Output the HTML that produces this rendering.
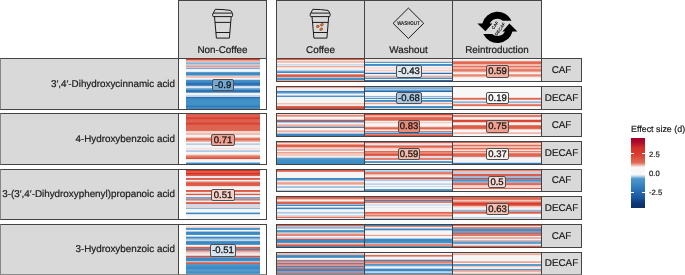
<!DOCTYPE html><html><head><meta charset="utf-8"><style>
*{margin:0;padding:0;box-sizing:border-box}
html,body{width:685px;height:275px;overflow:hidden;background:#fff;-webkit-font-smoothing:antialiased;will-change:transform;text-rendering:geometricPrecision;font-family:"Liberation Sans",sans-serif;color:#1a1a1a;-webkit-text-stroke:0.2px #1a1a1a}
.a{position:absolute}
.strip{position:absolute;background:#d9d9d9;border:1px solid #444}
.pan{position:absolute;border:1px solid #444;background:#fff}
.lastb{border-bottom-color:#8a8a8a !important}
.lft{border-left-color:#858585 !important}
.lbl{position:absolute;border:1px solid #505050;border-radius:2px;font-size:9.5px;-webkit-text-stroke:0.3px #111;line-height:10px;text-align:center;color:#1a1a1a}
.rt{position:absolute;font-size:9.85px;white-space:nowrap;text-align:right}
</style></head><body>
<div class="strip" style="left:178px;top:0px;width:89px;height:59px;"></div>
<div class="strip" style="left:276px;top:0px;width:89px;height:59px;"></div>
<div class="strip" style="left:364px;top:0px;width:89px;height:59px;"></div>
<div class="strip" style="left:452px;top:0px;width:90px;height:59px;"></div>
<div class="strip lft" style="left:0px;top:58px;width:179px;height:52px;"></div>
<div class="rt" style="right:510px;top:78.5px;line-height:12px">3′,4′-Dihydroxycinnamic acid</div>
<div class="strip lft" style="left:0px;top:113px;width:179px;height:52px;"></div>
<div class="rt" style="right:510px;top:133.5px;line-height:12px">4-Hydroxybenzoic acid</div>
<div class="strip lft" style="left:0px;top:169px;width:179px;height:51px;"></div>
<div class="rt" style="right:510px;top:189.0px;line-height:12px">3-(3′,4′-Dihydroxyphenyl)propanoic acid</div>
<div class="strip lft lastb" style="left:0px;top:224px;width:179px;height:51px;"></div>
<div class="rt" style="right:510px;top:244.0px;line-height:12px">3-Hydroxybenzoic acid</div>
<div class="pan" style="left:178px;top:58px;width:89px;height:52px"><div class="a" style="left:7px;top:0;width:74px;height:50px;background:linear-gradient(to bottom,#e03c2c 0px 1px,#f0a090 1px 2px,#f4b4a6 2px 3px,#a4c6e2 3px 4px,#84b4da 4px 5px,#b8cfe4 5px 6px,#e8b8b0 6px 7px,#f09a88 7px 8px,#c8c8d8 8px 9px,#78acd8 9px 10px,#f0f0f0 10px 11px,#f5f5f5 11px 12px,#e4ecf4 12px 13px,#5a9ccc 13px 14px,#3a88c4 14px 15px,#3d8cc6 15px 16px,#8ab4d8 16px 17px,#f6c0b4 17px 18px,#f4c4b8 18px 19px,#f4f4f4 19px 20px,#c8dcee 20px 21px,#4a90c8 21px 22px,#3f8cc8 22px 23px,#3a86c2 23px 24px,#2c6eb0 24px 25px,#2e70b2 25px 26px,#5088c4 26px 27px,#d0dcec 27px 28px,#dde6f0 28px 29px,#7aaed4 29px 30px,#5a9ccc 30px 31px,#2e72b4 31px 32px,#2e70b2 32px 33px,#6a9ccc 33px 34px,#f4f4f4 34px 36px,#c4d8ea 36px 37px,#c0d4e8 37px 38px,#2e6eb0 38px 39px,#3a84c2 39px 40px,#3f8cc6 40px 41px,#4090c8 41px 43px,#4292c8 43px 45px,#4090c8 45px 46px,#3a88c4 46px 47px,#3078b8 47px 48px,#3f8cc4 48px 50px)"></div></div>
<div class="pan" style="left:178px;top:113px;width:89px;height:52px"><div class="a" style="left:7px;top:0;width:74px;height:50px;background:linear-gradient(to bottom,#dc5a48 0px 1px,#dc6050 1px 3px,#d84a3c 3px 4px,#d84030 4px 5px,#dc5a48 5px 6px,#dc6050 6px 8px,#dc5848 8px 9px,#d84030 9px 10px,#dc5040 10px 11px,#dc6450 11px 16px,#de6c5a 16px 17px,#f4d0c8 17px 18px,#f4d4cc 18px 19px,#f2c0b4 19px 20px,#f2bcb0 20px 21px,#f4f4f4 21px 22px,#f4f2f2 22px 23px,#f0c0b0 23px 24px,#e8806c 24px 25px,#e06450 25px 26px,#e89484 26px 27px,#f0b0a0 27px 28px,#f4f4f4 28px 29px,#c8dcec 29px 30px,#b8d0e6 30px 31px,#f4f4f4 31px 32px,#f5f5f5 32px 33px,#f5f3f3 33px 34px,#f8e0da 34px 35px,#f4ecea 35px 36px,#c0d4e8 36px 37px,#b0cce4 37px 38px,#f4f4f4 38px 39px,#f5f5f5 39px 40px,#f6dcd4 40px 41px,#eca090 41px 42px,#e47866 42px 43px,#e06a56 43px 44px,#dc5040 44px 45px,#f4e8e4 45px 46px,#f5f5f5 46px 47px,#f4f4f4 47px 48px,#a8c8e4 48px 49px,#3a88c4 49px 50px)"></div></div>
<div class="pan" style="left:178px;top:169px;width:89px;height:51px"><div class="a" style="left:7px;top:0;width:74px;height:49px;background:linear-gradient(to bottom,#d83028 0px 1px,#dc5a48 1px 2px,#dc5c48 2px 3px,#d83028 3px 4px,#dc4a3a 4px 5px,#dc5a48 5px 6px,#e8e4ec 6px 7px,#e8e8ee 7px 8px,#dc5a48 8px 9px,#e06a56 9px 10px,#f4f4f4 10px 11px,#f0b4a4 11px 12px,#e07060 12px 13px,#dc5a48 13px 15px,#de6050 15px 16px,#f4dcd6 16px 17px,#f6ecea 17px 18px,#f4f6f8 18px 20px,#dc5a48 20px 21px,#e06450 21px 22px,#f6e4e0 22px 23px,#f2c8bc 23px 24px,#dc5a48 24px 25px,#f4e0dc 25px 26px,#f4f4f4 26px 27px,#6aa4d4 27px 28px,#7aaed4 28px 29px,#e47866 29px 30px,#f0a898 30px 31px,#f4f4f4 31px 32px,#e07060 32px 33px,#dc5c48 33px 34px,#c8dcec 34px 36px,#f4d0c8 36px 37px,#d0d8e8 37px 38px,#8ab8dc 38px 39px,#f4f4f4 39px 40px,#f5f5f5 40px 42px,#a8c8e4 42px 43px,#3a88c4 43px 44px,#d8e4f0 44px 45px,#f6f4f4 45px 47px,#f8f8f8 47px 49px)"></div></div>
<div class="pan lastb" style="left:178px;top:224px;width:89px;height:51px"><div class="a" style="left:7px;top:0;width:74px;height:49px;background:linear-gradient(to bottom,#f8f8f8 0px 1px,#f8e0da 1px 2px,#e8d0d4 2px 3px,#4a94c8 3px 4px,#5a9ccc 4px 5px,#f4f4f4 5px 6px,#a8c8e4 6px 7px,#3a88c4 7px 9px,#4a94c8 9px 10px,#f4f4f4 10px 11px,#b8d0e8 11px 12px,#3a88c4 12px 13px,#7aaed4 13px 14px,#b0cce4 14px 15px,#c8d8e8 15px 16px,#4a94c8 16px 17px,#3a88c4 17px 19px,#5a9ccc 19px 20px,#f4f4f4 20px 21px,#f4d8d0 21px 22px,#dc5a48 22px 23px,#e06450 23px 24px,#3a88c4 24px 25px,#a89098 25px 26px,#f0a090 26px 27px,#f4d0c8 27px 28px,#f4dcd6 28px 29px,#f0eef0 29px 30px,#eccac4 30px 31px,#d85040 31px 32px,#8890a8 32px 33px,#3a88c4 33px 35px,#3d8cc6 35px 36px,#a8c8e4 36px 37px,#d88070 37px 38px,#dc5a48 38px 39px,#5a94c4 39px 40px,#4a94c8 40px 41px,#4090c8 41px 42px,#3a8cc6 42px 44px,#4a94c8 44px 45px,#5a9ccc 45px 46px,#4a94c8 46px 47px,#4090c8 47px 48px,#5a9ccc 48px 49px)"></div></div>
<div class="pan" style="left:276px;top:58px;width:89px;height:24px"><div class="a" style="left:0;top:0;right:0;height:22px;background:linear-gradient(to bottom,#e06048 0px 1px,#f6e0da 1px 2px,#f2b8a8 2px 3px,#f4c4b8 3px 4px,#f5f5f5 4px 5px,#c8dcec 5px 6px,#dde8f2 6px 7px,#f0a890 7px 8px,#f6dcd4 8px 9px,#f4eeee 9px 10px,#f6f2f0 10px 11px,#b8d0e8 11px 12px,#6aa4d4 12px 13px,#3d8cc6 13px 14px,#f4f4f4 14px 15px,#e88a74 15px 16px,#e05a44 16px 17px,#e06048 17px 18px,#a8c8e4 18px 19px,#4a94c8 19px 20px,#4090c8 20px 21px,#e8a090 21px 22px)"></div></div>
<div class="pan" style="left:364px;top:58px;width:89px;height:24px"><div class="a" style="left:0;top:0;right:0;height:22px;background:linear-gradient(to bottom,#fbe4dc 0px 1px,#f8e4e0 1px 2px,#c8dcee 2px 3px,#5a9ccc 3px 4px,#f0f4f8 4px 5px,#3f8cc6 5px 6px,#4a94c8 6px 7px,#f4f4f4 7px 8px,#f8e0da 8px 9px,#f8e4e0 9px 10px,#f8e8e4 10px 11px,#f6d0c8 11px 12px,#f4e8e6 12px 13px,#c0d4e8 13px 14px,#2e6eb2 14px 15px,#ecf0f4 15px 16px,#f8dcd4 16px 17px,#f0a890 17px 18px,#a0c4e0 18px 19px,#4a90c8 19px 20px,#f0f0f0 20px 21px,#2a6ab0 21px 22px)"></div></div>
<div class="pan" style="left:452px;top:58px;width:90px;height:24px"><div class="a" style="left:0;top:0;right:0;height:22px;background:linear-gradient(to bottom,#f8f8f8 0px 1px,#f6e8e4 1px 2px,#e8907c 2px 3px,#e06450 3px 4px,#e06a56 4px 5px,#f0b8a8 5px 6px,#f2c0b4 6px 7px,#e07060 7px 8px,#f0b0a0 8px 9px,#f2b8a8 9px 10px,#e88070 10px 11px,#e47a68 11px 12px,#eca090 12px 13px,#f6e0da 13px 14px,#f8f4f2 14px 15px,#eca090 15px 16px,#e88570 16px 17px,#f0b0a0 17px 18px,#f8e8e4 18px 19px,#f8f8f8 19px 21px,#f4f4f4 21px 22px)"></div></div>
<div class="strip" style="left:541px;top:58px;width:41px;height:24px;"></div>
<div class="a" style="left:541px;top:64.5px;width:41px;text-align:center;font-size:9.85px;line-height:12px">CAF</div>
<div class="pan" style="left:276px;top:86px;width:89px;height:24px"><div class="a" style="left:0;top:0;right:0;height:22px;background:linear-gradient(to bottom,#f0a090 0px 1px,#f8e8e4 1px 2px,#f8ecea 2px 3px,#f0f0f4 3px 4px,#3a80c0 4px 5px,#5a9ccc 5px 6px,#a0c4e0 6px 7px,#f4f4f4 7px 8px,#a8c8e4 8px 9px,#4a90c8 9px 10px,#f4f4f4 10px 11px,#f5f5f5 11px 16px,#f4c0b4 16px 17px,#f6dcd4 17px 18px,#f4f0f0 18px 19px,#e06048 19px 20px,#d85040 20px 21px,#d04838 21px 22px)"></div></div>
<div class="pan" style="left:364px;top:86px;width:89px;height:24px"><div class="a" style="left:0;top:0;right:0;height:22px;background:linear-gradient(to bottom,#8ab8dc 0px 1px,#7eb0d8 1px 2px,#a0c4e0 2px 3px,#5a9ccc 3px 4px,#2a6ab0 4px 5px,#f0f4f8 5px 6px,#f8f8f8 6px 8px,#f4f4f4 8px 9px,#8ab8dc 9px 10px,#d8e4f0 10px 11px,#4a94c8 11px 12px,#f0f4f8 12px 13px,#3f8cc6 13px 14px,#5a9ccc 14px 15px,#f4e8e4 15px 16px,#f0a090 16px 17px,#f8e8e4 17px 18px,#f4f4f4 18px 19px,#4a94c8 19px 20px,#3a88c4 20px 21px,#c8dcee 21px 22px)"></div></div>
<div class="pan" style="left:452px;top:86px;width:90px;height:24px"><div class="a" style="left:0;top:0;right:0;height:22px;background:linear-gradient(to bottom,#f8f0ee 0px 1px,#f7f7f7 1px 10px,#f4d8d0 10px 11px,#e06a54 11px 12px,#e88a78 12px 13px,#f4f4f4 13px 14px,#a8c8e4 14px 15px,#8ab8dc 15px 16px,#f4e0dc 16px 17px,#e88a78 17px 18px,#e06a54 18px 19px,#f4e4e0 19px 20px,#f7f7f7 20px 22px)"></div></div>
<div class="strip" style="left:541px;top:86px;width:41px;height:24px;"></div>
<div class="a" style="left:541px;top:92.5px;width:41px;text-align:center;font-size:9.85px;line-height:12px">DECAF</div>
<div class="pan" style="left:276px;top:113px;width:89px;height:24px"><div class="a" style="left:0;top:0;right:0;height:22px;background:linear-gradient(to bottom,#f2d0c8 0px 1px,#e88a78 1px 2px,#f0b0a0 2px 3px,#f5f5f5 3px 5px,#f4c8bc 5px 6px,#dc5040 6px 7px,#3a88c4 7px 8px,#a8c8e4 8px 9px,#f4f4f4 9px 10px,#f4c4b8 10px 11px,#f0b0a0 11px 12px,#eca090 12px 13px,#3a88c4 13px 14px,#f4f4f4 14px 15px,#f5f5f5 15px 16px,#f4c8bc 16px 17px,#f0b0a0 17px 18px,#f4dcd4 18px 19px,#a8c8e4 19px 20px,#3a88c4 20px 21px,#3a80c0 21px 22px)"></div></div>
<div class="pan" style="left:364px;top:113px;width:89px;height:24px"><div class="a" style="left:0;top:0;right:0;height:22px;background:linear-gradient(to bottom,#d84030 0px 1px,#eea090 1px 2px,#f2b8a8 2px 3px,#e47866 3px 4px,#e06450 4px 6px,#e88a78 6px 7px,#f4f0f0 7px 8px,#f4d0c8 8px 9px,#f4e8e4 9px 10px,#f6f6f6 10px 11px,#f4f4f4 11px 12px,#f4d8d0 12px 13px,#e88070 13px 14px,#e06450 14px 15px,#f0b0a0 15px 16px,#f4f4f4 16px 17px,#e47866 17px 18px,#a0c4e0 18px 19px,#3a88c4 19px 20px,#e88070 20px 21px,#dc5040 21px 22px)"></div></div>
<div class="pan" style="left:452px;top:113px;width:90px;height:24px"><div class="a" style="left:0;top:0;right:0;height:22px;background:linear-gradient(to bottom,#f4d8d0 0px 1px,#e47866 1px 2px,#e47a68 2px 3px,#f6e4e0 3px 4px,#f4f4f4 4px 5px,#f2c4b8 5px 6px,#d84030 6px 7px,#dc4a3a 7px 8px,#f2c4b8 8px 9px,#f6f6f6 9px 10px,#f6ecea 10px 11px,#e47a68 11px 12px,#dc5c48 12px 14px,#e06a56 14px 15px,#f4c8bc 15px 16px,#f4f6f8 16px 18px,#f2c8bc 18px 19px,#f2b8a8 19px 20px,#f6f6f6 20px 21px,#f8f8f8 21px 22px)"></div></div>
<div class="strip" style="left:541px;top:113px;width:41px;height:24px;"></div>
<div class="a" style="left:541px;top:119.5px;width:41px;text-align:center;font-size:9.85px;line-height:12px">CAF</div>
<div class="pan" style="left:276px;top:141px;width:89px;height:24px"><div class="a" style="left:0;top:0;right:0;height:22px;background:linear-gradient(to bottom,#e88a78 0px 1px,#f6e0da 1px 2px,#ec9a88 2px 3px,#dc5a48 3px 4px,#de6450 4px 5px,#f0b8a8 5px 6px,#d4e0ec 6px 7px,#f0a898 7px 8px,#f0b0a0 8px 9px,#f4f4f4 9px 10px,#eca090 10px 11px,#f2c4b8 11px 12px,#f4c8bc 12px 13px,#f4ccc0 13px 14px,#f6ece8 14px 15px,#c8dcec 15px 16px,#5a9ccc 16px 17px,#4a94c8 17px 18px,#4090c8 18px 21px,#3a88c4 21px 22px)"></div></div>
<div class="pan" style="left:364px;top:141px;width:89px;height:24px"><div class="a" style="left:0;top:0;right:0;height:22px;background:linear-gradient(to bottom,#dc5040 0px 1px,#d0dcec 1px 2px,#e8e8f0 2px 3px,#ec9a88 3px 4px,#e06450 4px 5px,#e88070 5px 6px,#f4d0c8 6px 7px,#f6d8d0 7px 8px,#f4e4e0 8px 9px,#e06a56 9px 10px,#e88a78 10px 11px,#e88070 11px 12px,#dc5040 12px 13px,#e06450 13px 14px,#f0d8d4 14px 15px,#d0dcec 15px 16px,#e88070 16px 18px,#f4f4f4 18px 19px,#5a9ccc 19px 20px,#4a94c8 20px 21px,#f4f4f4 21px 22px)"></div></div>
<div class="pan" style="left:452px;top:141px;width:90px;height:24px"><div class="a" style="left:0;top:0;right:0;height:22px;background:linear-gradient(to bottom,#e06450 0px 1px,#f4dcd6 1px 2px,#f2c0b4 2px 3px,#e06a56 3px 4px,#f0b8a8 4px 5px,#f2c4b8 5px 6px,#e06a56 6px 7px,#f0b0a0 7px 8px,#f6e4e0 8px 9px,#e88070 9px 10px,#f0c8bc 10px 11px,#e88070 11px 12px,#e06450 12px 14px,#e88070 14px 15px,#d8e4f0 15px 16px,#f4f4f4 16px 17px,#f5f5f5 17px 19px,#f4f4f4 19px 20px,#c8dcec 20px 21px,#3078b8 21px 22px)"></div></div>
<div class="strip" style="left:541px;top:141px;width:41px;height:24px;"></div>
<div class="a" style="left:541px;top:147.5px;width:41px;text-align:center;font-size:9.85px;line-height:12px">DECAF</div>
<div class="pan" style="left:276px;top:169px;width:89px;height:23px"><div class="a" style="left:0;top:0;right:0;height:21px;background:linear-gradient(to bottom,#dc5a48 0px 1px,#e88070 1px 2px,#f4f4f4 2px 3px,#f5f5f5 3px 7px,#f4f4f4 7px 8px,#3a88c4 8px 9px,#4a94c8 9px 10px,#a0c4e0 10px 11px,#f4e8e4 11px 12px,#f0a898 12px 13px,#eca090 13px 14px,#f0c0b4 14px 15px,#f4f4f4 15px 16px,#a8c8e4 16px 17px,#a0c4e0 17px 18px,#f4f4f4 18px 20px,#b0cce4 20px 21px)"></div></div>
<div class="pan" style="left:364px;top:169px;width:89px;height:23px"><div class="a" style="left:0;top:0;right:0;height:21px;background:linear-gradient(to bottom,#c0d8ec 0px 1px,#a8c8e4 1px 2px,#e88070 2px 3px,#e47866 3px 4px,#f0b8a8 4px 5px,#f4e4e0 5px 6px,#f4f4f4 6px 7px,#e88a78 7px 8px,#dc4a3a 8px 9px,#b0cce4 9px 10px,#a8c8e4 10px 11px,#f4f4f4 11px 12px,#f4f6f8 12px 13px,#d0e0ee 13px 14px,#c0d4e8 14px 15px,#f4f4f4 15px 16px,#c8dcec 16px 17px,#f4f4f4 17px 18px,#f5f5f5 18px 19px,#5a9ccc 19px 20px,#4a90c8 20px 21px)"></div></div>
<div class="pan" style="left:452px;top:169px;width:90px;height:23px"><div class="a" style="left:0;top:0;right:0;height:21px;background:linear-gradient(to bottom,#e88070 0px 1px,#f0c0b4 1px 2px,#c0d0e4 2px 3px,#c8d0e0 3px 4px,#dc5c48 4px 6px,#a8b8d0 6px 8px,#dc5040 8px 9px,#5a9ccc 9px 10px,#4a94c8 10px 11px,#78acd8 11px 12px,#a8a8c0 12px 13px,#e47060 13px 14px,#e06a56 14px 15px,#f0c8bc 15px 16px,#f4d4cc 16px 17px,#f4d0c8 17px 18px,#e06450 18px 19px,#f8f8f8 19px 21px)"></div></div>
<div class="strip" style="left:541px;top:169px;width:41px;height:23px;"></div>
<div class="a" style="left:541px;top:175.0px;width:41px;text-align:center;font-size:9.85px;line-height:12px">CAF</div>
<div class="pan" style="left:276px;top:196px;width:89px;height:24px"><div class="a" style="left:0;top:0;right:0;height:22px;background:linear-gradient(to bottom,#dc5a48 0px 1px,#e06a56 1px 2px,#f0c0b4 2px 3px,#f4f4f4 3px 4px,#f0b0a0 4px 5px,#e06450 5px 6px,#dc5a48 6px 7px,#a0c4e0 7px 8px,#3a88c4 8px 9px,#f4f4f4 9px 10px,#a8c8e4 10px 11px,#3a88c4 11px 12px,#d8e4f0 12px 13px,#f4f4f4 13px 15px,#a8c8e4 15px 16px,#c8dcec 16px 17px,#f4f4f4 17px 18px,#c8dcec 18px 19px,#f0c0b4 19px 20px,#e47866 20px 21px,#e8e8f0 21px 22px)"></div></div>
<div class="pan" style="left:364px;top:196px;width:89px;height:24px"><div class="a" style="left:0;top:0;right:0;height:22px;background:linear-gradient(to bottom,#dc5a48 0px 1px,#e06a56 1px 2px,#c0a8b8 2px 3px,#3a88c4 3px 4px,#e47866 4px 6px,#f4f4f4 6px 7px,#d0e0ee 7px 8px,#d8e4f0 8px 9px,#f5f5f5 9px 10px,#e0e8f2 10px 11px,#f5f5f5 11px 14px,#f6ecea 14px 15px,#e06450 15px 16px,#e88070 16px 17px,#f0b0a0 17px 18px,#e47866 18px 19px,#f0b8a8 19px 20px,#f4e0dc 20px 21px,#a8c8e4 21px 22px)"></div></div>
<div class="pan" style="left:452px;top:196px;width:90px;height:24px"><div class="a" style="left:0;top:0;right:0;height:22px;background:linear-gradient(to bottom,#dc6450 0px 2px,#e47866 2px 3px,#f2c8bc 3px 4px,#eca090 4px 5px,#e06a56 5px 6px,#d83830 6px 7px,#dc4a3a 7px 8px,#e06450 8px 9px,#f2c8bc 9px 10px,#f4e0dc 10px 11px,#f6f2f0 11px 12px,#dde8f2 12px 13px,#8ab8dc 13px 14px,#c0a0a8 14px 15px,#dc5c48 15px 16px,#e88a78 16px 17px,#f4f4f4 17px 18px,#f6f8fa 18px 19px,#f4f6f8 19px 20px,#b8d0e8 20px 21px,#e0d8dc 21px 22px)"></div></div>
<div class="strip" style="left:541px;top:196px;width:41px;height:24px;"></div>
<div class="a" style="left:541px;top:202.5px;width:41px;text-align:center;font-size:9.85px;line-height:12px">DECAF</div>
<div class="pan" style="left:276px;top:224px;width:89px;height:24px"><div class="a" style="left:0;top:0;right:0;height:22px;background:linear-gradient(to bottom,#e06450 0px 1px,#d0b8c0 1px 2px,#8ab8dc 2px 3px,#a8c8e4 3px 4px,#f4f4f4 4px 5px,#5a9ccc 5px 6px,#4a94c8 6px 7px,#a0c4e0 7px 8px,#f0c0b4 8px 9px,#e88a78 9px 10px,#e88070 10px 11px,#f4f4f4 11px 12px,#d0dcec 12px 13px,#b0c8e0 13px 14px,#dc5040 14px 15px,#3a88c4 15px 17px,#4a94c8 17px 18px,#f0c8bc 18px 19px,#e88a78 19px 20px,#dc5a48 20px 21px,#3a88c4 21px 22px)"></div></div>
<div class="pan" style="left:364px;top:224px;width:89px;height:24px"><div class="a" style="left:0;top:0;right:0;height:22px;background:linear-gradient(to bottom,#3a80c0 0px 1px,#e88a78 1px 2px,#f4e4e0 2px 3px,#a0c4e0 3px 4px,#3a88c4 4px 5px,#c0d4e8 5px 6px,#f4f4f4 6px 7px,#f5f5f5 7px 9px,#f4e8e4 9px 10px,#f0a090 10px 11px,#f4f4f4 11px 12px,#f5f5f5 12px 13px,#b0cce4 13px 14px,#3a88c4 14px 16px,#4090c8 16px 17px,#4a94c8 17px 18px,#a8c8e4 18px 19px,#e88a78 19px 20px,#e88070 20px 21px,#4090c8 21px 22px)"></div></div>
<div class="pan" style="left:452px;top:224px;width:90px;height:24px"><div class="a" style="left:0;top:0;right:0;height:22px;background:linear-gradient(to bottom,#e06450 0px 1px,#f4e4e0 1px 2px,#e88070 2px 3px,#b08898 3px 4px,#3a90c8 4px 6px,#9890a8 6px 7px,#e07060 7px 8px,#5a8cc0 8px 9px,#e07868 9px 11px,#f4f0f0 11px 12px,#f0b0a0 12px 13px,#f0aca0 13px 14px,#f4f0f0 14px 15px,#f0b0a0 15px 16px,#8ab0d4 16px 17px,#5a9ccc 17px 18px,#6aa4d4 18px 19px,#dce6f0 19px 20px,#f0c8bc 20px 21px,#d85a48 21px 22px)"></div></div>
<div class="strip" style="left:541px;top:224px;width:41px;height:24px;"></div>
<div class="a" style="left:541px;top:230.5px;width:41px;text-align:center;font-size:9.85px;line-height:12px">CAF</div>
<div class="pan lastb" style="left:276px;top:252px;width:89px;height:23px"><div class="a" style="left:0;top:0;right:0;height:21px;background:linear-gradient(to bottom,#f2c0b4 0px 1px,#f0b8a8 1px 2px,#4a94c8 2px 3px,#3a88c4 3px 4px,#5a9ccc 4px 5px,#f4f4f4 5px 6px,#f4e4e0 6px 7px,#e06a56 7px 8px,#7aa8d4 8px 9px,#a0b8d8 9px 10px,#dc5a48 10px 11px,#e88a78 11px 12px,#c0a0b0 12px 13px,#3a88c4 13px 14px,#c88888 14px 15px,#d87060 15px 16px,#3a88c4 16px 18px,#a890a8 18px 19px,#e08070 19px 20px,#5a94c4 20px 21px)"></div></div>
<div class="pan lastb" style="left:364px;top:252px;width:89px;height:23px"><div class="a" style="left:0;top:0;right:0;height:21px;background:linear-gradient(to bottom,#f6f6f6 0px 1px,#f6ece8 1px 2px,#e06a56 2px 3px,#eca090 3px 4px,#f4f4f4 4px 6px,#c0d4e8 6px 7px,#3a88c4 7px 8px,#e47866 8px 9px,#e88070 9px 10px,#eca898 10px 11px,#4a94c8 11px 12px,#6aa4d4 12px 13px,#c8dcec 13px 14px,#f0f4f8 14px 15px,#b0cce4 15px 16px,#3a88c4 16px 18px,#a8c8e4 18px 19px,#c0d4e8 19px 20px,#5a94c4 20px 21px)"></div></div>
<div class="pan lastb" style="left:452px;top:252px;width:90px;height:23px"><div class="a" style="left:0;top:0;right:0;height:21px;background:linear-gradient(to bottom,#f0c0b4 0px 1px,#f0a898 1px 2px,#f6ece8 2px 3px,#f5f5f5 3px 8px,#f0b8a8 8px 9px,#f0a898 9px 10px,#f4f4f4 10px 11px,#5a9ccc 11px 13px,#f4c4b8 13px 14px,#f4e8e6 14px 15px,#f0f0f4 15px 16px,#4a94c8 16px 17px,#d0a8b0 17px 18px,#f0b0a0 18px 19px,#f4e4e0 19px 20px,#f2c8bc 20px 21px)"></div></div>
<div class="strip lastb" style="left:541px;top:252px;width:41px;height:23px;"></div>
<div class="a" style="left:541px;top:258.0px;width:41px;text-align:center;font-size:9.85px;line-height:12px">DECAF</div>
<div class="a" style="left:178px;width:89px;top:44.5px;text-align:center;font-size:9.85px;line-height:12px">Non-Coffee</div>
<div class="a" style="left:276px;width:89px;top:44.5px;text-align:center;font-size:9.85px;line-height:12px">Coffee</div>
<div class="a" style="left:364px;width:89px;top:44.5px;text-align:center;font-size:9.85px;line-height:12px">Washout</div>
<div class="a" style="left:452px;width:90px;top:44.5px;text-align:center;font-size:9.85px;line-height:12px">Reintroduction</div>
<svg class="a" style="left:0;top:0" width="685" height="275" viewBox="0 0 685 275"><g transform="translate(0,0)" fill="none" stroke="#111" stroke-width="0.95" stroke-linejoin="round"><path d="M213.3,13.1 L215.3,9.3 Q223,9.3 230.6,10.4 L232.4,13.1"/><rect x="212.7" y="13.1" width="19.9" height="3.5" rx="0.9"/><path d="M214.5,16.6 L216.4,38.1 L229.4,38.1 L231.2,16.6"/><path d="M214.9,22.4 H230.6 M215.9,32.5 H229.8"/></g><g transform="translate(97.5,0)" fill="none" stroke="#111" stroke-width="0.95" stroke-linejoin="round"><path d="M213.3,13.1 L215.3,9.3 Q223,9.3 230.6,10.4 L232.4,13.1"/><rect x="212.7" y="13.1" width="19.9" height="3.5" rx="0.9"/><path d="M214.5,16.6 L216.4,38.1 L229.4,38.1 L231.2,16.6"/><path d="M214.9,22.4 H230.6 M215.9,32.5 H229.8"/></g><ellipse cx="317.8" cy="26.4" rx="1.9" ry="1.5" transform="rotate(-30 317.8 26.4)" fill="#a8582a"/><path d="M316.8,27.0 L318.8,25.799999999999997" stroke="#e8c0a0" stroke-width="0.4"/><ellipse cx="321.9" cy="24.8" rx="1.9" ry="1.5" transform="rotate(-30 321.9 24.8)" fill="#a8582a"/><path d="M320.9,25.400000000000002 L322.9,24.2" stroke="#e8c0a0" stroke-width="0.4"/><ellipse cx="321.2" cy="29.2" rx="1.9" ry="1.5" transform="rotate(-30 321.2 29.2)" fill="#a8582a"/><path d="M320.2,29.8 L322.2,28.599999999999998" stroke="#e8c0a0" stroke-width="0.4"/><path d="M408.4,8.100000000000001 L423.7,23.3 L408.4,38.5 L393.09999999999997,23.3 Z" fill="none" stroke="#111" stroke-width="0.95"/><text x="408.4" y="25.3" font-size="5.6" font-weight="bold" text-anchor="middle" textLength="22.5" lengthAdjust="spacingAndGlyphs" font-family="Liberation Sans" fill="#111">WASHOUT</text><g><path d="M511.49,20.70 A15.6,15.6 0 0 0 482.32,23.40 L477.40,23.40 L485.40,31.30 L492.40,23.40 L489.79,23.40 A8.6,8.6 0 0 1 502.79,20.70 Z" fill="#000"/><path d="M483.31,34.10 A15.6,15.6 0 0 0 512.48,31.40 L517.40,31.40 L509.40,23.50 L502.40,31.40 L505.01,31.40 A8.6,8.6 0 0 1 492.01,34.10 Z" fill="#000"/><text x="0" y="0" transform="translate(495.3,25.5) rotate(-55)" font-size="4.3" font-weight="bold" text-anchor="middle" dominant-baseline="middle" font-family="Liberation Sans" style="-webkit-text-stroke:0">CAF</text><text x="0" y="0" transform="translate(500.3,29.3) rotate(-55)" font-size="4.3" font-weight="bold" text-anchor="middle" dominant-baseline="middle" font-family="Liberation Sans" style="-webkit-text-stroke:0">DECAF</text></g></svg>
<div class="lbl" style="left:212px;top:79px;width:22px;height:12px;background:#72a9d4;line-height:11px">-0.9</div>
<div class="lbl" style="left:211px;top:134px;width:24px;height:12px;background:#f0a090;line-height:11px">0.71</div>
<div class="lbl" style="left:211px;top:189px;width:24px;height:12px;background:#f8d0c8;line-height:11px">0.51</div>
<div class="lbl" style="left:210px;top:244px;width:26px;height:13px;background:#d8e4f0;line-height:12px">-0.51</div>
<div class="lbl" style="left:396px;top:65px;width:26px;height:13px;background:#e0e8f0;line-height:12px">-0.43</div>
<div class="lbl" style="left:396px;top:92px;width:26px;height:12px;background:#a8c8e4;line-height:11px">-0.68</div>
<div class="lbl" style="left:486px;top:65px;width:23px;height:13px;background:#f2b0a0;line-height:12px">0.59</div>
<div class="lbl" style="left:486px;top:92px;width:23px;height:12px;background:#fafafa;line-height:11px">0.19</div>
<div class="lbl" style="left:398px;top:120px;width:22px;height:13px;background:#ec8a78;line-height:12px">0.83</div>
<div class="lbl" style="left:486px;top:120px;width:23px;height:13px;background:#f0a090;line-height:12px">0.75</div>
<div class="lbl" style="left:398px;top:148px;width:22px;height:12px;background:#f4b8a8;line-height:11px">0.59</div>
<div class="lbl" style="left:486px;top:148px;width:23px;height:12px;background:#faf0ee;line-height:11px">0.37</div>
<div class="lbl" style="left:488px;top:176px;width:18px;height:12px;background:#f8d8d0;line-height:11px">0.5</div>
<div class="lbl" style="left:486px;top:203px;width:23px;height:12px;background:#f4c0b0;line-height:11px">0.63</div>
<div class="a" style="left:631px;top:123px;font-size:8.9px;line-height:12px;white-space:nowrap">Effect size (d)</div>
<div class="a" style="left:631px;top:137.6px;width:14px;height:70px;background:linear-gradient(to bottom,#a50026 0%,#ae0a2a 6%,#c01c2b 10%,#d0302a 14%,#d83a2c 22%,#da4a3a 27%,#dc5c48 31%,#de6a56 35%,#eaa090 38%,#f4e0da 40.5%,#f7f7f7 42%,#f7f7f7 52%,#d0e2f0 54%,#8abbdd 56%,#4d96c9 58.5%,#3a88c4 66%,#3078b8 72%,#2666ad 78%,#1a55a0 86%,#0f4080 90.5%,#0b3572 95%,#0a3068 100%)"></div>
<div class="a" style="left:631px;top:153.1px;width:3px;height:1px;background:#fff"></div>
<div class="a" style="left:642px;top:153.1px;width:3px;height:1px;background:#fff"></div>
<div class="a" style="left:649px;top:150.1px;font-size:7.7px;line-height:10px">2.5</div>
<div class="a" style="left:631px;top:172.5px;width:3px;height:1px;background:#fff"></div>
<div class="a" style="left:642px;top:172.5px;width:3px;height:1px;background:#fff"></div>
<div class="a" style="left:649px;top:168.6px;font-size:7.7px;line-height:10px">0.0</div>
<div class="a" style="left:631px;top:192.0px;width:3px;height:1px;background:#fff"></div>
<div class="a" style="left:642px;top:192.0px;width:3px;height:1px;background:#fff"></div>
<div class="a" style="left:649px;top:188.1px;font-size:7.7px;line-height:10px">-2.5</div>
</body></html>
